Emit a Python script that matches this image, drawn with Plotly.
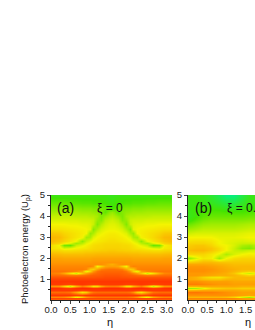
import plotly.graph_objects as go

energy = [0.0,0.08,0.16,0.26,0.38,0.5,0.58,0.68,0.78,0.9,1.0,1.08,1.2,1.3,1.4,1.5,1.6,1.7,1.8,2.0,2.2,2.4,2.5,2.6,2.7,2.8,3.0,3.2,3.4,3.6,3.8,4.0,4.2,4.4,4.6,5.0]
eta_a_half = [0.0,0.2,0.35,0.5,0.65,0.8,0.9,1.0,1.1,1.2,1.3,1.4,1.5,1.57]
eta_b = [0.0,0.2,0.4,0.6,0.8,1.0,1.2,1.4,1.6,1.8]

# panel (a) is mirror-symmetric about eta = pi/2; left half
z_a_half = [
[.84,.84,.84,.84,.84,.84,.84,.84,.84,.84,.84,.84,.84,.84],
[.92,.92,.92,.92,.92,.92,.92,.92,.92,.92,.92,.92,.92,.92],
[.78,.78,.76,.68,.48,.60,.72,.78,.80,.82,.82,.82,.82,.82],
[.96,.96,.96,.96,.94,.94,.96,.96,.96,.96,.96,.96,.96,.96],
[.84,.84,.84,.82,.70,.54,.60,.76,.82,.84,.84,.84,.84,.84],
[.95,.95,.95,.95,.95,.93,.94,.95,.95,.95,.95,.95,.95,.95],
[.98,.97,.95,.94,.97,.98,.98,.97,.96,.96,.97,.98,.98,.98],
[.76,.74,.59,.44,.66,.80,.74,.66,.54,.56,.70,.78,.80,.80],
[.95,.95,.94,.93,.95,.96,.95,.94,.94,.94,.95,.95,.95,.95],
[.96,.96,.96,.96,.96,.96,.96,.96,.96,.96,.96,.96,.96,.96],
[.93,.93,.93,.93,.93,.93,.93,.93,.93,.93,.93,.93,.93,.93],
[.89,.89,.89,.89,.89,.89,.89,.89,.89,.90,.90,.91,.91,.91],
[.84,.84,.83,.81,.81,.83,.84,.86,.87,.87,.88,.89,.89,.89],
[.80,.78,.70,.56,.44,.62,.72,.78,.82,.85,.86,.87,.87,.87],
[.82,.82,.82,.80,.78,.72,.48,.60,.74,.82,.85,.85,.85,.85],
[.80,.80,.80,.80,.80,.80,.78,.62,.60,.72,.80,.82,.83,.83],
[.78,.78,.78,.78,.78,.78,.78,.79,.76,.50,.60,.70,.72,.72],
[.76,.76,.76,.76,.76,.76,.76,.76,.76,.76,.76,.74,.70,.68],
[.74,.74,.74,.74,.74,.74,.74,.74,.75,.75,.75,.75,.75,.75],
[.71,.71,.70,.70,.70,.70,.70,.70,.71,.71,.71,.71,.71,.71],
[.66,.65,.64,.64,.64,.64,.65,.65,.65,.66,.66,.66,.66,.66],
[.58,.57,.55,.55,.56,.57,.58,.58,.59,.59,.60,.60,.61,.61],
[.55,.53,.46,.48,.51,.53,.54,.56,.57,.58,.58,.59,.59,.59],
[.56,.50,.32,.30,.44,.48,.51,.54,.56,.57,.57,.58,.58,.58],
[.62,.58,.52,.47,.38,.42,.48,.51,.54,.55,.56,.57,.57,.57],
[.65,.62,.58,.54,.49,.36,.44,.48,.51,.53,.54,.55,.56,.56],
[.66,.65,.61,.57,.54,.51,.39,.40,.47,.50,.52,.53,.54,.54],
[.62,.61,.58,.56,.54,.52,.50,.37,.40,.47,.49,.51,.52,.52],
[.55,.55,.54,.53,.52,.51,.50,.48,.35,.41,.46,.48,.49,.49],
[.50,.50,.50,.49,.49,.48,.48,.47,.44,.34,.41,.45,.47,.47],
[.46,.46,.46,.46,.46,.45,.45,.45,.44,.37,.35,.42,.44,.45],
[.43,.43,.43,.43,.42,.42,.42,.41,.41,.39,.33,.37,.40,.41],
[.39,.39,.39,.39,.39,.38,.38,.38,.37,.36,.34,.29,.35,.37],
[.35,.35,.35,.35,.35,.34,.34,.34,.33,.33,.32,.30,.26,.24],
[.30,.30,.30,.29,.29,.28,.28,.28,.27,.27,.26,.25,.24,.23],
[.22,.22,.22,.22,.22,.22,.22,.22,.22,.22,.22,.22,.21,.20],
]

z_b = [
[.74,.74,.74,.74,.74,.74,.74,.74,.74,.74],
[.78,.78,.78,.78,.78,.78,.78,.74,.72,.74],
[.66,.66,.66,.66,.66,.64,.58,.46,.38,.50],
[.76,.76,.76,.76,.76,.76,.74,.72,.70,.72],
[.82,.82,.80,.80,.78,.76,.74,.72,.72,.72],
[.66,.68,.70,.70,.70,.70,.70,.68,.68,.68],
[.38,.40,.48,.58,.60,.62,.62,.60,.60,.60],
[.68,.68,.70,.70,.70,.70,.70,.68,.68,.68],
[.80,.80,.78,.76,.74,.74,.72,.72,.72,.72],
[.76,.76,.74,.72,.72,.72,.70,.70,.70,.70],
[.70,.68,.64,.62,.62,.66,.67,.66,.66,.66],
[.70,.67,.60,.55,.54,.60,.65,.66,.66,.66],
[.74,.74,.72,.70,.68,.68,.66,.62,.58,.62],
[.74,.74,.74,.72,.70,.68,.62,.50,.44,.50],
[.76,.76,.76,.74,.72,.70,.66,.62,.60,.62],
[.76,.76,.76,.75,.72,.70,.68,.66,.66,.66],
[.74,.74,.74,.72,.70,.68,.66,.66,.66,.66],
[.70,.70,.70,.69,.67,.66,.64,.64,.64,.64],
[.60,.62,.65,.65,.63,.62,.62,.62,.62,.62],
[.36,.46,.54,.52,.38,.50,.56,.58,.58,.58],
[.58,.58,.58,.54,.48,.40,.46,.50,.52,.50],
[.64,.66,.66,.62,.56,.50,.44,.42,.44,.46],
[.62,.64,.64,.62,.56,.50,.44,.36,.34,.40],
[.60,.62,.62,.58,.52,.50,.46,.40,.38,.42],
[.58,.58,.58,.56,.50,.48,.46,.44,.44,.46],
[.55,.56,.56,.54,.50,.48,.47,.46,.47,.48],
[.50,.50,.50,.50,.48,.48,.48,.49,.50,.50],
[.44,.46,.46,.46,.46,.46,.46,.47,.48,.48],
[.38,.40,.42,.42,.42,.42,.42,.43,.44,.44],
[.30,.34,.37,.38,.38,.38,.38,.39,.40,.40],
[.22,.28,.32,.34,.34,.34,.34,.34,.35,.35],
[.20,.24,.28,.30,.30,.30,.30,.30,.31,.31],
[.21,.24,.26,.27,.27,.26,.26,.26,.27,.27],
[.22,.24,.24,.24,.23,.20,.20,.22,.24,.24],
[.22,.23,.22,.20,.17,.14,.14,.18,.22,.22],
[.22,.22,.20,.16,.10,.02,.02,.12,.20,.22],
]

y_ticks = [1,2,3,4,5]
y_minor = [0.5,1.5,2.5,3.5,4.5]
x_ticks = [0.0,0.5,1.0,1.5,2.0,2.5,3.0]
x_minor = [0.25,0.75,1.25,1.75,2.25,2.75]
scale = [[0,"#00f08a"],[.25,"#44e400"],[.5,"#f4f400"],[.75,"#ff9400"],[1,"#ff2400"]]
font = "Liberation Sans"

eta_a = eta_a_half + [round(3.14 - e, 2) for e in eta_a_half[-2::-1]]
z_a = [row + row[-2::-1] for row in z_a_half]

fig = go.Figure()
fig.add_trace(go.Heatmap(x=eta_a,y=energy,z=z_a,colorscale=scale,zmin=0,zmax=1,zsmooth="best",showscale=False,xaxis="x",yaxis="y"))
fig.add_trace(go.Heatmap(x=eta_b,y=energy,z=z_b,colorscale=scale,zmin=0,zmax=1,zsmooth="best",showscale=False,xaxis="x2",yaxis="y2"))

axis_x = dict(automargin=False,tickvals=x_ticks,ticktext=[f"{v:.1f}" for v in x_ticks],ticks="outside",ticklen=3,tickwidth=1,ticklabelstandoff=-2,
              showgrid=False,zeroline=False,showline=True,linecolor="#222",linewidth=1,tickfont=dict(size=9.5,family=font,color="#222"),
              minor=dict(tickvals=x_minor,ticks="outside",ticklen=2,tickcolor="#222"))
axis_y = dict(automargin=False,range=[0,5],tickvals=y_ticks,ticks="outside",ticklen=3,tickwidth=1,showgrid=False,zeroline=False,
              showline=True,linecolor="#222",linewidth=1,tickfont=dict(size=9.5,family=font,color="#222"),
              minor=dict(tickvals=y_minor,ticks="outside",ticklen=2,tickcolor="#222"))
fig.update_layout(
    width=255,height=330,margin=dict(l=0,r=0,t=0,b=0),paper_bgcolor="white",plot_bgcolor="white",
    xaxis=dict(domain=[51/255,172/255],range=[0,3.14],anchor="y",**axis_x),
    yaxis=dict(domain=[30/330,135/330],anchor="x",**axis_y),
    xaxis2=dict(domain=[188/255,1],range=[0,1.745],anchor="y2",**axis_x),
    yaxis2=dict(domain=[30/330,135/330],anchor="x2",**axis_y),
    showlegend=False,
    font=dict(family=font,color="#222"),
)
def note(text,px,py,size,anchor="left",angle=0):
    fig.add_annotation(text=text,xref="paper",yref="paper",x=px/255,y=1-py/330,xanchor=anchor,yanchor="middle",
                       showarrow=False,font=dict(size=size,family=font,color="#111"),textangle=angle)
note("(a)",55,208,14)
note("ξ = 0",95,208,12)
note("(b)",193,208,14)
note("ξ = 0.5",225,208,12)
note("η",110,322,11,"center")
note("η",248,322,11,"center")
note("Photoelectron energy (U<sub>p</sub>)",25,249,9.5,"center",-90)

fig.write_html("out.html",config={"displayModeBar":False},post_script="document.body.style.margin='0';document.body.style.overflow='hidden';")
